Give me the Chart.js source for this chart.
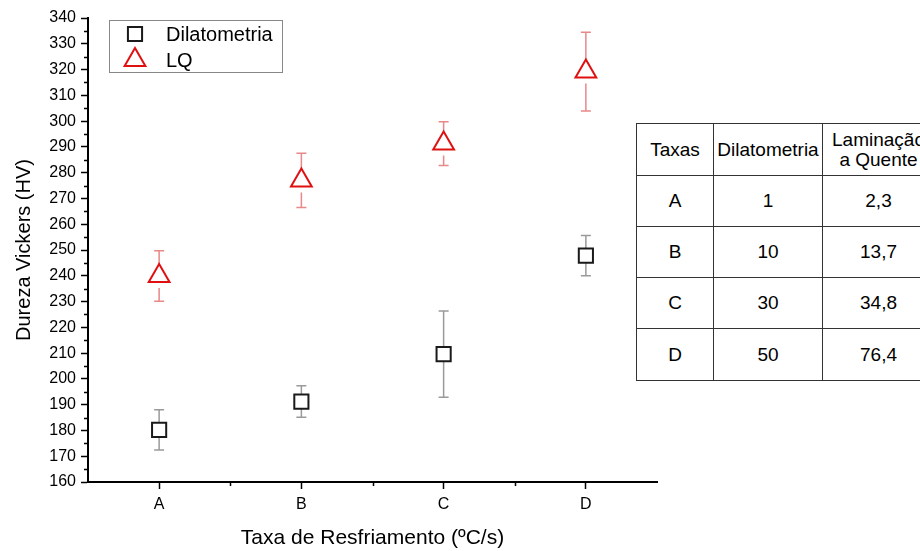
<!DOCTYPE html>
<html>
<head>
<meta charset="utf-8">
<script src="https://cdn.jsdelivr.net/npm/chart.js"></script>
<style>
  html, body { margin:0; padding:0; background:#fff; }
  body { width:920px; height:551px; overflow:hidden; position:relative; font-family:"Liberation Sans", Arial, sans-serif; }
  #c { position:absolute; left:0; top:0; }
  #tbl { position:absolute; left:636px; top:123px; width:298px; table-layout:fixed; border-collapse:collapse; background:#fff; font-size:19px; color:#000; }
  #tbl td { border:1.5px solid #333; text-align:center; vertical-align:middle; padding:0; line-height:20px; white-space:nowrap; overflow:hidden; }
</style>
</head>
<body>
<canvas id="c" width="920" height="551"></canvas>
<table id="tbl"></table>
<script>
// ---- data ----
const categories = ['A', 'B', 'C', 'D'];
const seriesNames = ['Dilatometria', 'LQ'];
const dilatometria = [180.2, 191.2, 209.6, 247.8];
const dilatometriaErr = [7.8, 6.1, 16.7, 7.8];
const lq = [239.9, 277.0, 291.3, 319.2];
const lqErr = [9.8, 10.5, 8.5, 15.3];
const yTicksMin = 160, yTicksMax = 340, yStep = 10;

const tableHeader = ['Taxas', 'Dilatometria', 'Laminação<br>a Quente'];
const tableTaxas = ['A', 'B', 'C', 'D'];
const tableDilatometria = ['1', '10', '30', '50'];
const tableLaminacao = ['2,3', '13,7', '34,8', '76,4'];

// ---- table ----
(function(){
  const t = document.getElementById('tbl');
  const widths = [77, 109, 112];
  const heights = [52, 51, 51, 51, 52];
  let html = '<colgroup>' + widths.map(w => '<col style="width:' + w + 'px">').join('') + '</colgroup>';
  html += '<tr style="height:' + heights[0] + 'px">' + tableHeader.map(h => '<td>' + h + '</td>').join('') + '</tr>';
  for (let r = 0; r < tableTaxas.length; r++) {
    html += '<tr style="height:' + heights[r+1] + 'px"><td>' + tableTaxas[r] + '</td><td>' + tableDilatometria[r] + '</td><td>' + tableLaminacao[r] + '</td></tr>';
  }
  t.innerHTML = html;
})();

const FONT = '"Liberation Sans", Arial, sans-serif';

const errorBars = {
  id: 'errorBars',
  beforeDatasetsDraw(chart) {
    const ctx = chart.ctx;
    const y = chart.scales.y;
    chart.data.datasets.forEach((ds, di) => {
      const meta = chart.getDatasetMeta(di);
      ctx.save();
      ctx.strokeStyle = ds.errColor;
      ctx.lineWidth = 1.5;
      meta.data.forEach((pt, i) => {
        const v = ds.data[i], e = ds.errors[i];
        const x = pt.x, yc = pt.y;
        const yt = y.getPixelForValue(v + e), yb = y.getPixelForValue(v - e);
        ctx.beginPath();
        ctx.moveTo(x, yt); ctx.lineTo(x, yc - ds.gapTop);
        ctx.moveTo(x, yc + ds.gapBottom); ctx.lineTo(x, yb);
        ctx.moveTo(x - 5, yt); ctx.lineTo(x + 5, yt);
        ctx.moveTo(x - 5, yb); ctx.lineTo(x + 5, yb);
        ctx.stroke();
      });
      ctx.restore();
    });
  }
};

function drawMarker(ctx, style, x, y, r) {
  ctx.beginPath();
  if (style === 'rect') {
    const s = r * Math.SQRT1_2;
    ctx.rect(x - s, y - s, 2 * s, 2 * s);
  } else {
    let rad = 0;
    ctx.moveTo(x + Math.sin(rad) * r, y - Math.cos(rad) * r);
    rad += 2 * Math.PI / 3;
    ctx.lineTo(x + Math.sin(rad) * r, y - Math.cos(rad) * r);
    rad += 2 * Math.PI / 3;
    ctx.lineTo(x + Math.sin(rad) * r, y - Math.cos(rad) * r);
    ctx.closePath();
  }
  ctx.fill(); ctx.stroke();
}

const extras = {
  id: 'extras',
  afterDraw(chart) {
    const ctx = chart.ctx;
    const ys = chart.scales.y, xs = chart.scales.x;
    const ca = chart.chartArea;
    ctx.save();
    ctx.strokeStyle = '#000';
    ctx.lineWidth = 1.5;
    // minor y ticks
    ctx.beginPath();
    for (let v = yTicksMin + yStep / 2; v < yTicksMax; v += yStep) {
      const py = Math.round(ys.getPixelForValue(v)) + 0.5;
      ctx.moveTo(ca.left - 4, py); ctx.lineTo(ca.left, py);
    }
    // minor x ticks at category boundaries
    for (let i = 0; i < categories.length - 1; i++) {
      const px = Math.round((xs.getPixelForValue(i) + xs.getPixelForValue(i + 1)) / 2) + 0.5;
      ctx.moveTo(px, ca.bottom); ctx.lineTo(px, ca.bottom + 4);
    }
    ctx.stroke();

    // legend
    const lx = 109, ly = 20, lw = 173, lh = 52;
    ctx.fillStyle = '#fff';
    ctx.fillRect(lx, ly, lw, lh);
    ctx.strokeStyle = '#888';
    ctx.lineWidth = 1;
    ctx.strokeRect(lx + 0.5, ly + 0.5, lw, lh);
    const rows = [34, 60];
    chart.data.datasets.forEach((ds, i) => {
      ctx.fillStyle = '#fff';
      ctx.strokeStyle = ds.borderColor;
      ctx.lineWidth = 2;
      drawMarker(ctx, ds.pointStyle, 135, rows[i], ds.pointRadius);
      ctx.fillStyle = '#000';
      ctx.font = '20px ' + FONT;
      ctx.textBaseline = 'middle';
      ctx.textAlign = 'left';
      ctx.fillText(ds.label, 166, rows[i] + 1);
    });
    ctx.restore();
  }
};

new Chart(document.getElementById('c'), {
  type: 'line',
  data: {
    labels: categories,
    datasets: [
      {
        label: seriesNames[0], data: dilatometria, errors: dilatometriaErr,
        showLine: false, pointStyle: 'rect', pointRadius: 10, pointHoverRadius: 10,
        borderColor: '#1a1a1a', backgroundColor: '#fff', pointBackgroundColor: '#fff',
        pointBorderWidth: 2, errColor: '#9a9a9a', gapTop: 7, gapBottom: 7
      },
      {
        label: seriesNames[1], data: lq, errors: lqErr,
        showLine: false, pointStyle: 'triangle', pointRadius: 12, pointHoverRadius: 12,
        borderColor: '#e01010', backgroundColor: '#fff', pointBackgroundColor: '#fff',
        pointBorderWidth: 2, errColor: '#e88888', gapTop: 12, gapBottom: 12
      }
    ]
  },
  options: {
    responsive: false,
    animation: false,
    events: [],
    layout: { padding: { left: 0, top: 18, right: 263, bottom: 0 } },
    plugins: { legend: { display: false }, tooltip: { enabled: false } },
    scales: {
      x: {
        type: 'category',
        offset: true,
        grid: { display: true, drawOnChartArea: false, offset: false, tickLength: 7, tickColor: '#000', tickWidth: 1.5 },
        border: { display: true, color: '#000', width: 2 },
        ticks: { color: '#000', font: { family: FONT, size: 16 }, padding: 6, maxRotation: 0 },
        title: { display: true, text: 'Taxa de Resfriamento (ºC/s)', color: '#000', font: { family: FONT, size: 21 }, padding: { top: 0, bottom: 0 } },
        afterFit(s) { s.height = 69; }
      },
      y: {
        min: yTicksMin, max: yTicksMax,
        grid: { display: true, drawOnChartArea: false, tickLength: 7, tickColor: '#000', tickWidth: 1.5 },
        border: { display: true, color: '#000', width: 2 },
        ticks: { stepSize: yStep, color: '#000', font: { family: FONT, size: 16 }, padding: 5 },
        title: { display: true, text: 'Dureza Vickers (HV)', color: '#000', font: { family: FONT, size: 20 }, padding: { top: 12, bottom: 0 } },
        afterFit(s) { s.width = 88; }
      }
    }
  },
  plugins: [errorBars, extras]
});
</script>
</body>
</html>
